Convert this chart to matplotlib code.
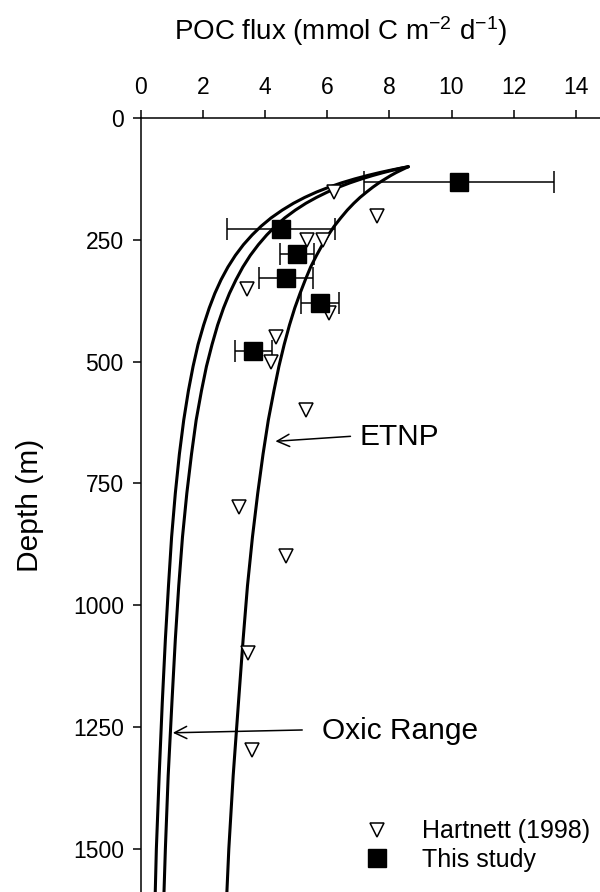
import matplotlib
matplotlib.use("Agg")
import matplotlib.pyplot as plt

plt.rcParams['font.family'] = ['Liberation Sans', 'DejaVu Sans']
plt.rcParams['mathtext.fontset'] = 'custom'
plt.rcParams['mathtext.rm'] = 'Liberation Sans'
plt.rcParams['mathtext.it'] = 'Liberation Sans'

# ---- data ----
# Hartnett (1998) POC flux (mmol C m-2 d-1) vs depth (m)
hart_flux = [6.22, 7.59, 5.34, 5.86, 3.41, 6.07, 4.35, 4.19, 5.31, 3.17, 4.68, 3.47, 3.57]
hart_depth = [152, 202, 250, 250, 350, 401, 449, 500, 600, 798, 899, 1099, 1297]

# This study
study_flux = [10.24, 4.52, 5.04, 4.67, 5.77, 3.63]
study_depth = [131, 228, 279, 329, 379, 478]
study_err = [3.05, 1.74, 0.55, 0.87, 0.61, 0.60]

# model curves
curve_depth = [100, 103, 107, 112, 118, 125, 133, 142, 152, 163, 175, 189, 205, 222,
               240, 260, 282, 306, 332, 360, 390, 425, 465, 510, 560, 620, 690, 770,
               860, 960, 1070, 1200, 1350, 1500, 1600]
oxic_low = [8.61, 8.36, 8.05, 7.69, 7.30, 6.89, 6.47, 6.06, 5.66, 5.28, 4.92, 4.56,
            4.20, 3.88, 3.59, 3.31, 3.05, 2.81, 2.59, 2.39, 2.21, 2.03, 1.85, 1.69,
            1.54, 1.39, 1.25, 1.12, 1.00, 0.90, 0.80, 0.70, 0.60, 0.51, 0.47]
oxic_high = [8.61, 8.39, 8.12, 7.81, 7.47, 7.11, 6.74, 6.37, 6.01, 5.66, 5.32, 4.98,
             4.64, 4.34, 4.06, 3.79, 3.53, 3.29, 3.07, 2.86, 2.67, 2.48, 2.30, 2.12,
             1.96, 1.79, 1.64, 1.49, 1.35, 1.23, 1.12, 1.01, 0.89, 0.80, 0.75]
etnp = [8.61, 8.51, 8.38, 8.22, 8.05, 7.87, 7.67, 7.47, 7.27, 7.06, 6.86, 6.65,
        6.44, 6.23, 6.04, 5.85, 5.66, 5.47, 5.30, 5.13, 4.96, 4.79, 4.62, 4.45,
        4.29, 4.11, 3.94, 3.77, 3.60, 3.44, 3.30, 3.15, 2.98, 2.84, 2.77]

xticks = [0, 2, 4, 6, 8, 10, 12, 14]
yticks = [0, 250, 500, 750, 1000, 1250, 1500]

# ---- figure ----
W, H = 600, 892
fig = plt.figure(figsize=(W / 100, H / 100), dpi=100)
left_px, top_px = 140.5, 118
px_per_x = 31.1
px_per_m = 0.4872
xmax, ymax = 15, 1650
ax = fig.add_axes([left_px / W, 1 - (top_px + ymax * px_per_m) / H,
                   xmax * px_per_x / W, ymax * px_per_m / H])
ax.set_xlim(0, xmax)
ax.set_ylim(ymax, 0)

lw = 2.2
for c in (oxic_low, oxic_high, etnp):
    ax.plot(c, curve_depth, color='black', lw=lw, solid_capstyle='round',
            solid_joinstyle='round', zorder=2)

ax.errorbar(study_flux, study_depth, xerr=study_err, fmt='none', ecolor='black',
            elinewidth=1.1, capsize=8, capthick=1.1, zorder=3)
ax.plot(hart_flux, hart_depth, linestyle='none', marker='v', ms=10.5,
        mfc='white', mec='black', mew=1.1, zorder=4, label='Hartnett (1998)')
ax.plot(study_flux, study_depth, linestyle='none', marker='s', ms=13,
        mfc='black', mec='black', zorder=5, label='This study')

ax.xaxis.tick_top()
ax.set_xticks(xticks)
ax.set_yticks(yticks)
ax.tick_params(axis='both', direction='out', length=6, width=1.1, labelsize=16.5)
ax.tick_params(axis='x', pad=8)
ax.tick_params(axis='y', pad=6)
for s in ('right', 'bottom'):
    ax.spines[s].set_visible(False)
for s in ('left', 'top'):
    ax.spines[s].set_linewidth(1.1)

# annotations
ax.annotate('', xy=(4.25, 664), xytext=(6.84, 653),
            arrowprops=dict(arrowstyle='->', color='black', lw=1.1, mutation_scale=22))
ax.text(7.05, 655, 'ETNP', fontsize=21.5, va='center', ha='left')
ax.annotate('', xy=(0.95, 1262), xytext=(5.29, 1256),
            arrowprops=dict(arrowstyle='->', color='black', lw=1.1, mutation_scale=22))
ax.text(5.85, 1258, 'Oxic Range', fontsize=21.5, va='center', ha='left')

handles, labels = ax.get_legend_handles_labels()
fig.legend(handles, labels, loc='center left',
           bbox_to_anchor=(364.5 / W, 1 - 845.5 / H),
           frameon=False, fontsize=18, handletextpad=1.3, labelspacing=0.17,
           borderpad=0, borderaxespad=0, handlelength=1.0)

fig.text(341 / W, 1 - 40 / H, 'POC flux (mmol C m$^{-2}$ d$^{-1}$)', fontsize=20,
         ha='center', va='baseline')
fig.text(30 / W, 1 - 505 / H, 'Depth (m)', fontsize=21.5, rotation=90,
         ha='center', va='center')

fig.savefig('out.png', dpi=100)
